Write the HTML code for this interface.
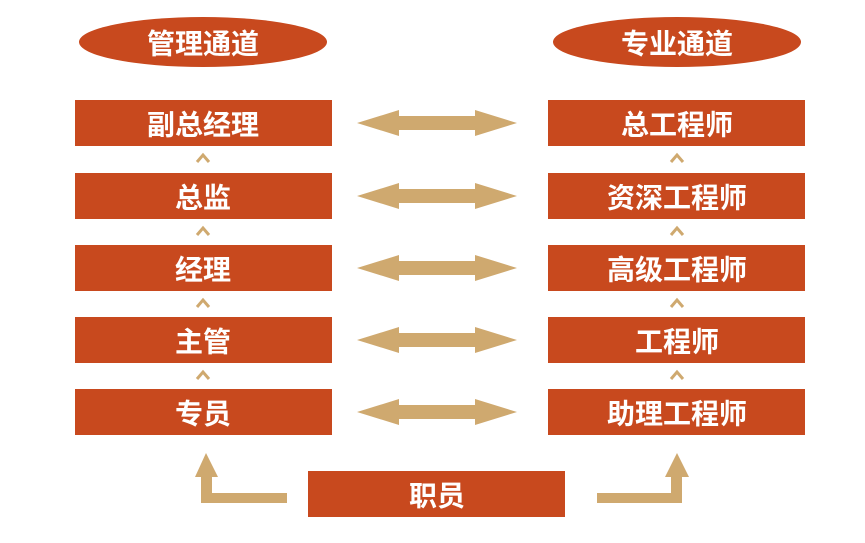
<!DOCTYPE html>
<html><head><meta charset="utf-8"><style>
body{margin:0;background:#fff;width:865px;height:538px;overflow:hidden}
svg text{font-family:"Liberation Sans","Noto Sans CJK SC",sans-serif;font-weight:bold;fill:#fff;font-size:28px;text-anchor:middle;dominant-baseline:central}
</style></head><body>
<svg width="865" height="538" viewBox="0 0 865 538">
<defs>
<g id="da"><polygon points="357,0 399,-13 399,-7 475,-7 475,-13 517,0 475,13 475,7 399,7 399,13" fill="#cfa96f"/></g>
<g id="ch"><polyline points="-6,4 0,-3 6,4" fill="none" stroke="#cfa96f" stroke-width="3"/></g>
</defs>
<ellipse cx="203" cy="42" rx="124" ry="25" fill="#c8491e"/>
<text x="203" y="44">管理通道</text>
<ellipse cx="677" cy="42" rx="124" ry="25" fill="#c8491e"/>
<text x="677" y="44">专业通道</text>
<g fill="#c8491e">
<rect x="75" y="100" width="257" height="46"/><rect x="548" y="100" width="257" height="46"/>
<rect x="75" y="173" width="257" height="46"/><rect x="548" y="173" width="257" height="46"/>
<rect x="75" y="245" width="257" height="46"/><rect x="548" y="245" width="257" height="46"/>
<rect x="75" y="317" width="257" height="46"/><rect x="548" y="317" width="257" height="46"/>
<rect x="75" y="389" width="257" height="46"/><rect x="548" y="389" width="257" height="46"/>
<rect x="308" y="471" width="257" height="46"/>
</g>
<text x="203" y="125">副总经理</text><text x="677" y="125">总工程师</text>
<text x="203" y="198">总监</text><text x="677" y="198">资深工程师</text>
<text x="203" y="270">经理</text><text x="677" y="270">高级工程师</text>
<text x="203" y="342">主管</text><text x="677" y="342">工程师</text>
<text x="203" y="414">专员</text><text x="677" y="414">助理工程师</text>
<text x="437" y="496">职员</text>
<use href="#da" y="123"/><use href="#da" y="196"/><use href="#da" y="268"/><use href="#da" y="340"/><use href="#da" y="412"/>
<use href="#ch" x="203" y="158"/><use href="#ch" x="203" y="231"/><use href="#ch" x="203" y="303"/><use href="#ch" x="203" y="375"/>
<use href="#ch" x="677" y="158"/><use href="#ch" x="677" y="231"/><use href="#ch" x="677" y="303"/><use href="#ch" x="677" y="375"/>
<polygon points="206,453 218,477 212,477 212,493 287,493 287,503 201,503 201,477 195,477" fill="#cfa96f"/>
<polygon points="677,453 689,477 682,477 682,503 597,503 597,493 671,493 671,477 665,477" fill="#cfa96f"/>
</svg>
</body></html>
